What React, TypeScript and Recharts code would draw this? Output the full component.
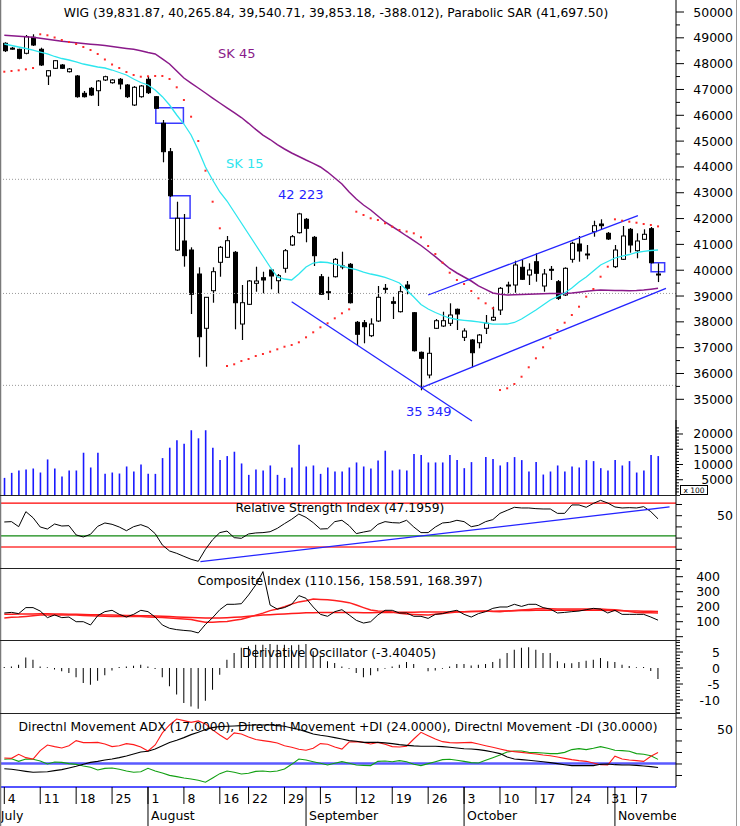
import React from 'react';
import { ComposedChart, Bar, Line, XAxis, YAxis, ReferenceLine, ReferenceArea } from 'recharts';

const FONT = '"DejaVu Sans", Verdana, sans-serif';

// ---------- price (WIG) ----------
const openP = [48788,48600,48556,48401,49020,48556,47522,47820,47948,47688,47522,46851,47045,46952,47367,47262,47394,47173,46398,46720,47394,46720,45690,44590,40782,41131,40782,39853,37750,39206,40306,40500,40693,37916,38679,39493,39710,40008,39593,40074,40976,41453,41972,41274,39748,39167,39748,40163,40229,37982,37967,37463,38033,39299,38780,38393,39427,38354,36820,35941,37750,37839,37944,38486,37401,37297,37192,37750,38071,38459,39388,39427,40113,39814,40329,39388,40035,39555,39040,40422,41015,40628,41491,41789,41429,40136,40422,41584,40755,41197,41608,39832];
const highP = [48827,48645,48579,49109,49137,48618,47754,48141,47986,47831,47560,46941,47095,47367,47533,47405,47444,47212,47134,47173,47522,46747,45817,44733,42653,42177,40887,40113,38963,40113,40937,41325,40744,39427,39621,40136,39942,40035,39853,40821,41363,42223,42022,41325,39853,39748,40473,40717,40279,38033,38072,38137,39388,39465,38973,39388,39582,38381,36851,37401,38110,38393,38718,38517,37750,37335,37529,38265,38586,39349,39555,40368,40422,40267,40655,40047,40163,39621,40113,41104,41325,40976,41917,41972,41480,40976,41712,41635,41429,41584,41673,40266];
const lowP = [48451,48540,48168,48362,48683,47909,47173,47793,47793,47657,46681,46689,46747,46360,47328,47223,47006,46669,46360,46681,46824,46243,44179,42835,40744,40136,38304,36627,36263,38741,39748,40473,37711,37297,38652,39167,39105,39260,39105,39903,40937,41421,41081,40163,39040,38846,39717,40035,38710,37103,37169,37412,37994,39105,38110,38362,39067,36851,35349,35813,37723,37800,37839,37684,37258,36240,36975,37529,38033,38265,39105,39129,39621,39427,39555,39167,39621,38846,39001,40291,40330,40422,41298,41557,41170,40085,40395,40678,40461,41170,40260,39541];
const closeP = [48501,48590,48207,49044,48722,47948,47727,48114,47820,47793,46720,46720,46786,47328,47494,47367,47212,46720,47084,47134,46875,46271,44590,42885,42010,40562,39067,37425,38951,39942,40887,41143,38741,38741,39582,39582,39621,39776,39787,40755,41298,42180,41623,40562,39067,39160,40422,40150,38741,37518,37812,37916,38951,39290,38718,39167,39299,36882,36588,36782,38044,38044,38265,38304,37645,36805,37490,37944,38176,39299,39427,40202,39648,40008,39880,39853,40020,38912,40074,41042,40744,40610,41724,41724,41209,40782,41325,40976,41131,41391,40291,39853];
const volume = [5610,7260,8030,8360,8690,7370,11660,8690,6050,8030,8030,13860,9020,13860,6930,7370,7040,9350,7700,10010,6930,6930,12100,15510,17930,16830,21230,18590,21230,15510,11440,12760,14190,10340,6600,8360,8030,9680,6600,5610,9020,16500,9350,9680,6930,9020,7700,7700,9020,10670,9350,8690,11330,14520,8030,8360,8030,13420,13090,10670,10670,10670,13090,11440,8800,10780,100,12430,11770,9680,10780,12430,11440,7700,10780,6710,7700,9680,7700,9350,9020,11440,11110,8800,8030,11440,9680,11110,7370,8030,13090,12760];
const sk15 = [48761,48703,48645,48587,48528,48451,48374,48277,48199,48141,48064,47986,47928,47870,47831,47754,47657,47560,47405,47270,47173,46979,46720,46398,46011,45662,45236,44655,43997,43494,43029,42680,42254,41828,41402,40976,40550,40124,39737,39659,39621,39853,40124,40279,40318,40298,40240,40163,40085,40027,39930,39853,39795,39725,39621,39504,39233,38962,38672,38497,38362,38246,38149,38091,38060,38033,37998,37955,37909,37909,37916,37975,38110,38284,38459,38652,38846,38982,39117,39311,39543,39737,39969,40202,40337,40473,40550,40608,40686,40732,40763,40782];
const sk45 = [49098,49078,49059,49040,49020,48986,48947,48904,48865,48838,48811,48780,48753,48730,48699,48660,48621,48587,48556,48498,48432,48374,48188,47986,47715,47444,47250,47057,46863,46669,46476,46290,46104,45914,45690,45453,45236,45062,44861,44694,44539,44404,44268,44140,43997,43803,43571,43339,43029,42758,42525,42332,42099,41867,41693,41518,41325,41150,40957,40744,40523,40291,40066,39892,39737,39582,39396,39257,39117,39067,39040,39047,39059,39071,39079,39086,39094,39098,39102,39117,39148,39183,39214,39233,39225,39218,39210,39206,39210,39233,39264,39299];
const sar = [47688,47715,47742,47781,47831,49137,49098,49013,48916,48838,48761,48645,48528,48374,48161,47967,47831,47676,47560,47494,47510,47522,47522,47405,47084,46592,45945,45004,43854,42653,41623,36290,36356,36483,36561,36677,36755,36844,36937,37037,37103,37208,37401,37595,37789,37944,38137,38331,38486,42266,42138,42010,41944,41817,41685,41557,41499,41429,41274,40937,40628,40291,39903,39621,39466,39195,38912,38718,38525,35360,35426,35593,35875,36240,36588,37014,37363,37684,37967,38265,38587,38974,39272,39748,40136,41971,41917,41879,41840,41789,41751,41697.5];

// ---------- indicators ----------
const rsi = [44.4,44.7,40.2,53.6,48.2,39.9,38.1,42.6,40.8,41.1,32.8,31.0,33.4,40.5,43.5,42.3,39.9,36.6,40.2,42.0,39.6,34.0,23.8,18.5,16.4,13.7,11.1,9.3,20.0,28.6,34.9,36.3,30.4,29.8,33.7,34.6,34.9,35.7,38.7,42.9,46.8,51.5,48.5,43.8,38.1,38.4,44.7,45.9,41.1,34.0,35.4,36.6,42.3,44.7,43.8,43.5,45.9,39.9,34.9,34.9,39.9,43.5,44.1,45.9,44.7,40.2,41.4,44.7,46.5,52.1,54.8,57.5,56.9,56.9,56.3,56.0,56.0,52.1,52.1,59.6,59.6,57.5,61.0,63.7,61.3,57.8,56.9,57.2,56.9,58.1,53.6,47.2];
const compIdx = [158,162,154,194,194,171,127,145,127,131,100,100,78,140,167,176,149,131,149,176,167,131,78,56,47,42,38,25,82,127,180,216,216,220,278,345,434,211,184,194,216,274,256,198,149,136,167,180,145,109,91,100,145,176,176,158,158,136,136,122,149,154,167,176,149,131,154,167,189,198,198,216,202,216,216,194,184,158,162,167,171,180,189,184,158,176,149,149,149,149,131,110.2];
const compFast = [125,129,131,135,139,144,145,145,145,145,144,142,140,138,136,134,134,134,134,134,131,129,128,125,121,118,115,105,96,97,99,102,109,117,129,144,157,174,185,200,217,232,240,251,248,246,241,234,227,211,194,178,171,169,165,157,151,148,146,145,149,154,159,164,167,168,170,171,168,167,171,175,178,182,186,188,186,185,185,185,185,185,185,185,182,179,174,168,162,160,159,158.6];
const compSlow = [149,150,151,152,152,153,153,152,151,150,149,148,147,146,145,144,143,142,141,140,139,138,136,134,132,130,128,126,124,124,125,127,129,132,136,140,144,147,150,152,155,157,159,160,161,162,162,162,162,161,160,160,161,162,162,163,163,163,164,164,164,165,165,166,167,168,168,169,170,171,172,173,174,175,176,176,177,177,177,177,177,177,176,176,175,174,173,172,171,170,169,168.4];
const deriv = [0.3,0.5,1.0,3.3,2.6,0.5,0.2,-0.5,-1.0,-1.6,-2.9,-4.7,-5.2,-4.0,-2.3,-0.8,0.3,0.5,0.7,1.0,0.5,-0.3,-2.9,-5.7,-8.3,-10.9,-12.0,-12.7,-10.2,-6.8,-2.1,2.6,4.7,6.3,6.8,7.3,7.3,7.5,7.3,7.3,7.1,7.3,7.5,5.2,3.6,2.1,1.6,0.5,-0.2,-1.6,-2.9,-2.3,-1.0,-0.2,0.5,1.0,1.9,1.25,0,-1.0,-0.8,-0.2,0.5,1.25,1.25,0.8,1.0,1.25,1.9,2.9,4.7,5.7,6.3,6.5,5.7,4.7,4.7,2.1,1.5,1.5,1.9,2.3,2.6,3.1,2.1,1.9,1.0,0.6,0.2,0.3,-0.9,-3.4];
const adx = [15.9,15.4,14.5,13.6,12.8,13.0,13.3,14.2,15.1,16.5,18.0,19.7,21.4,22.3,23.5,24.3,25.5,27.0,28.7,30.4,31.0,33.0,35.9,38.6,40.6,42.9,45.5,47.5,49.9,51.6,52.5,52.8,53.0,53.3,53.6,53.9,53.9,53.9,53.3,52.8,51.3,49.9,48.1,46.1,44.9,44.1,42.9,41.7,40.3,39.7,38.8,38.8,38.8,38.3,37.7,36.8,36.2,35.7,35.4,35.4,35.4,35.1,34.5,33.9,33.3,33.0,32.5,31.6,30.4,29.0,26.1,24.3,23.8,23.2,22.6,22.0,21.2,20.3,19.4,18.6,18.6,18.6,18.6,19.7,20.0,19.4,19.1,19.1,18.8,18.3,17.7,17.0];
const plusDi = [24.1,24.6,22.3,24.3,24.1,22.6,20.0,21.7,21.4,20.3,19.7,18.3,17.1,14.8,16.2,16.5,15.4,13.9,12.8,13.3,16.2,13.9,12.2,10.1,9.0,7.8,7.0,5.8,4.1,7.8,11.6,13.9,12.8,11.3,11.9,13.6,13.9,13.3,13.9,15.7,19.7,24.3,23.5,22.0,20.6,19.1,20.6,22.0,20.6,19.1,18.8,18.6,22.3,22.6,22.0,22.9,22.0,19.7,18.6,20.3,22.0,23.8,24.1,23.2,22.3,21.2,20.9,23.2,25.5,27.8,30.4,31.3,31.3,30.1,29.9,29.6,29.0,29.0,30.1,32.5,33.3,32.5,33.6,35.1,33.6,31.9,31.6,31.0,29.0,28.4,27.2,24.0];
const minusDi = [25.2,24.9,28.4,25.5,24.3,31.6,36.5,35.1,33.9,35.9,40.3,38.6,38.6,38.8,37.4,35.1,35.9,37.7,36.8,34.8,31.3,36.5,47.0,53.9,59.1,57.7,56.2,57.4,54.8,49.6,45.2,41.2,47.0,46.1,43.5,41.2,40.3,39.4,38.3,35.9,34.5,32.8,31.9,33.6,37.7,37.1,34.8,33.0,39.1,39.4,38.8,37.4,38.8,37.1,35.1,34.8,35.4,41.7,47.5,44.6,41.7,39.4,38.6,38.3,38.6,38.8,37.4,35.9,34.5,33.0,31.6,30.7,30.1,29.3,28.7,27.8,27.2,26.1,24.9,23.8,22.9,22.3,20.9,19.4,19.1,26.7,24.3,23.5,22.9,22.3,26.7,30.0];

// ---------- annotations (data units) ----------
const priceLevels = [43520, 39100, 35540];
const downTrend = [{ x: 40, y: 38780 }, { x: 65.1, y: 34160 }];
const lowerChannel = [{ x: 58.1, y: 35450 }, { x: 92.1, y: 39299 }];
const upperChannel = [{ x: 59, y: 39040 }, { x: 88.2, y: 42110 }];
const gapBoxes = [
  { x1: 21.09, x2: 24.93, y1: 45690, y2: 46294 },
  { x1: 23.08, x2: 25.86, y1: 42010, y2: 42886 },
  { x1: 90.03, x2: 91.92, y1: 39942, y2: 40291 },
];
const rsiTrend = [{ x: 27.3, y: 9.0 }, { x: 92.6, y: 57.8 }];
const rsiLevels = [
  { v: 61.3, c: '#ff0000', w: 1.2 },
  { v: 31.9, c: '#118811', w: 1.2 },
  { v: 22.0, c: '#ff6a6a', w: 2 },
];
const adxLevel = 20.5;

// ---------- tick labels ----------
const priceTicks = [35000,35500,36000,36500,37000,37500,38000,38500,39000,39500,40000,40500,41000,41500,42000,42500,43000,43500,44000,44500,45000,45500,46000,46500,47000,47500,48000,48500,49000,49500,50000];
const priceMajor = [35000,36000,37000,38000,39000,40000,41000,42000,43000,44000,45000,46000,47000,48000,49000,50000];
const volTicks = [1000,2000,3000,4000,5000,6000,7000,8000,9000,10000,11000,12000,13000,14000,15000,16000,17000,18000,19000,20000,21000,22000];
const volMajor = [5000,10000,15000,20000];
const rsiTicks = [10,20,30,40,50,60];
const compTicks = [0,50,100,150,200,250,300,350,400,450];
const compMajor = [0,100,200,300,400];
const compLabels = [100,200,300,400];
const derivTicks = [-14,-13,-12,-11,-10,-9,-8,-7,-6,-5,-4,-3,-2,-1,0,1,2,3,4,5,6,7,8];
const derivMajor = [-10,-5,0,5];
const adxTicks = [10,20,30,40,50,60];
const weekIdx = [0,5,10,15,20,25,30,34,39,44,49,54,59,64,69,74,79,84,88];
const weekLbl = ['4','11','18','25','1','8','16','22','29','5','12','19','26','3','10','17','24','31','7'];
const monthIdx = [-0.55,20,42,64,85];
const monthLbl = ['July','August','September','October','November'];
const xTicks = [-0.55,0,5,10,15,20,25,30,34,39,42,44,49,54,59,64,69,74,79,84,85,88];

const rows = openP.map((o, i) => ({
  i, o, h: highP[i], l: lowP[i], c: closeP[i], range: [lowP[i], highP[i]],
  vol: volume[i], sk15: sk15[i], sk45: sk45[i], sar: sar[i], rsi: rsi[i],
  comp: compIdx[i], cf: compFast[i], cs: compSlow[i], der: deriv[i],
  adx: adx[i], pdi: plusDi[i], mdi: minusDi[i],
}));

const XDOM: [number, number] = [-0.6, 93.5];
const AXIS_W = 64;
const PLOT_RIGHT = 676;
const M = { top: 0, right: 0, bottom: 0, left: 0 };

function makeYTick(majors: number[], labels: number[], labelRight: number, majorLen: number, minorLen: number, fmt?: (v: number) => string) {
  return (props: any) => {
    const { x, y, payload } = props;
    const v = payload.value;
    const len = majors.includes(v) ? majorLen : minorLen;
    const show = labels.includes(v);
    return (
      <g>
        <line x1={x} x2={x + len} y1={y} y2={y} stroke="#000" strokeWidth={1} />
        {show && (
          <text x={labelRight} y={y} dy="0.36em" textAnchor="end" fontFamily={FONT} fontSize={12.5} fill="#000">
            {fmt ? fmt(v) : String(v)}
          </text>
        )}
      </g>
    );
  };
}

const PriceTick = makeYTick(priceMajor, priceMajor, 733, 8, 4);
const VolTick = makeYTick(volMajor, volMajor, 733, 7, 3);
const RsiTick = makeYTick(rsiTicks, [50], 733, 6, 6);
const CompTick = makeYTick(compMajor, compLabels, 720, 7, 4);
const DerivTick = makeYTick(derivMajor, derivMajor, 720, 7, 4);
const AdxTick = makeYTick(adxTicks, [50], 733, 6, 6);

const XTick = (props: any) => {
  const { x, y, payload } = props;
  const v = payload.value;
  const w = weekIdx.indexOf(v);
  const m = monthIdx.indexOf(v);
  return (
    <g>
      {w >= 0 && <line x1={x} x2={x} y1={y} y2={y + 17} stroke="#000" />}
      {w >= 0 && (
        <text x={x + 3.5} y={y + 15.5} fontFamily={FONT} fontSize={12.5} fill="#000">{weekLbl[w]}</text>
      )}
      {m > 0 && <line x1={x} x2={x} y1={y} y2={y + 40} stroke="#000" />}
      {m >= 0 && (
        <svg x={x} y={y + 18} width={Math.max(PLOT_RIGHT - x, 1)} height={22} overflow="hidden">
          <text x={m === 0 ? 0.5 : 3} y={15} fontFamily={FONT} fontSize={12.5} fill="#000">{monthLbl[m]}</text>
        </svg>
      )}
    </g>
  );
};

const Candle = (props: any) => {
  let { x, y, width, height, payload } = props;
  if (height < 0) { y += height; height = -height; }
  const { o, h, l, c } = payload;
  const span = h - l || 1;
  const k = height / span;
  const yo = y + (h - o) * k;
  const yc = y + (h - c) * k;
  const top = Math.min(yo, yc);
  const bh = Math.max(Math.abs(yc - yo), 1);
  const cx = Math.round(x + width / 2) + 0.5;
  const up = c >= o;
  return (
    <g>
      <line x1={cx} x2={cx} y1={y} y2={y + height} stroke="#000" strokeWidth={1.2} />
      <rect x={cx - width / 2} y={top} width={width} height={bh} fill={up ? '#ffffff' : '#000000'} stroke="#000" strokeWidth={1} />
    </g>
  );
};

const SarDot = (props: any) => {
  const { cx, cy } = props;
  if (cx == null || cy == null) return null;
  return <rect x={cx - 1} y={cy - 1} width={2} height={2} fill="#ff2a2a" />;
};

const hiddenX = <XAxis dataKey="i" type="number" domain={XDOM} allowDataOverflow hide />;

const txt = { fontFamily: FONT, fill: '#000' } as const;

export default function App() {
  return (
    <div style={{ position: 'absolute', left: 0, top: 0, width: 740, height: 826, background: '#fff', overflow: 'hidden' }}>
      {/* main price panel */}
      <div style={{ position: 'absolute', left: 0, top: 0 }}>
        <ComposedChart width={740} height={495} data={rows} margin={M}>
          {hiddenX}
          <YAxis orientation="right" width={AXIS_W} domain={[31294, 50465]} allowDataOverflow ticks={priceTicks} interval={0}
            tick={PriceTick} tickLine={false} tickSize={0} tickMargin={0} axisLine={{ stroke: '#000' }} />
          {priceLevels.map((v) => (
            <ReferenceLine key={v} y={v} stroke="#9a9a9a" strokeDasharray="1 2" />
          ))}
          <Line dataKey="sk45" stroke="#8a1a8a" strokeWidth={1.5} dot={false} activeDot={false} isAnimationActive={false} />
          <Line dataKey="sk15" stroke="#2ee6ee" strokeWidth={1.3} dot={false} activeDot={false} isAnimationActive={false} />
          <Bar dataKey="range" barSize={4} shape={Candle} isAnimationActive={false} />
          <Line dataKey="sar" stroke="none" dot={SarDot} activeDot={false} isAnimationActive={false} />
          <ReferenceLine segment={downTrend} stroke="#2424ff" strokeWidth={1.3} />
          <ReferenceLine segment={lowerChannel} stroke="#2424ff" strokeWidth={1.3} />
          <ReferenceLine segment={upperChannel} stroke="#2424ff" strokeWidth={1.3} />
          {gapBoxes.map((b, k) => (
            <ReferenceArea key={k} x1={b.x1} x2={b.x2} y1={b.y1} y2={b.y2} fill="none" fillOpacity={0} stroke="#3a3aff" strokeWidth={1.5} />
          ))}
        </ComposedChart>
      </div>
      {/* volume */}
      <div style={{ position: 'absolute', left: 0, top: 420 }}>
        <ComposedChart width={740} height={75} data={rows} margin={M}>
          {hiddenX}
          <YAxis orientation="right" width={AXIS_W} domain={[0, 24590]} allowDataOverflow ticks={volTicks} interval={0}
            tick={VolTick} tickLine={false} tickSize={0} tickMargin={0} axisLine={{ stroke: '#000' }} />
          <Bar dataKey="vol" barSize={1.6} fill="#1a1aff" isAnimationActive={false} />
        </ComposedChart>
      </div>
      {/* RSI */}
      <div style={{ position: 'absolute', left: 0, top: 495 }}>
        <ComposedChart width={740} height={74} data={rows} margin={M}>
          {hiddenX}
          <YAxis orientation="right" width={AXIS_W} domain={[2.41, 68.48]} allowDataOverflow ticks={rsiTicks} interval={0}
            tick={RsiTick} tickLine={false} tickSize={0} tickMargin={0} axisLine={{ stroke: '#000' }} />
          {rsiLevels.map((r) => (
            <ReferenceLine key={r.v} y={r.v} stroke={r.c} strokeWidth={r.w} />
          ))}
          <Line dataKey="rsi" stroke="#000" strokeWidth={1} dot={false} activeDot={false} isAnimationActive={false} />
          <ReferenceLine segment={rsiTrend} stroke="#2424ff" strokeWidth={1.3} />
        </ComposedChart>
      </div>
      {/* Composite index */}
      <div style={{ position: 'absolute', left: 0, top: 569 }}>
        <ComposedChart width={740} height={71} data={rows} margin={M}>
          {hiddenX}
          <YAxis orientation="right" width={AXIS_W} domain={[-22, 451.3]} allowDataOverflow ticks={compTicks} interval={0}
            tick={CompTick} tickLine={false} tickSize={0} tickMargin={0} axisLine={{ stroke: '#000' }} />
          <Line dataKey="cs" stroke="#ff1a1a" strokeWidth={1.5} dot={false} activeDot={false} isAnimationActive={false} />
          <Line dataKey="cf" stroke="#ff2020" strokeWidth={1.5} dot={false} activeDot={false} isAnimationActive={false} />
          <Line dataKey="comp" stroke="#000" strokeWidth={1} dot={false} activeDot={false} isAnimationActive={false} />
        </ComposedChart>
      </div>
      {/* Derivative oscillator */}
      <div style={{ position: 'absolute', left: 0, top: 640 }}>
        <ComposedChart width={740} height={73} data={rows} margin={M}>
          {hiddenX}
          <YAxis orientation="right" width={AXIS_W} domain={[-14.06, 8.75]} allowDataOverflow ticks={derivTicks} interval={0}
            tick={DerivTick} tickLine={false} tickSize={0} tickMargin={0} axisLine={{ stroke: '#000' }} />
          <Bar dataKey="der" barSize={1} fill="#000" isAnimationActive={false} />
        </ComposedChart>
      </div>
      {/* ADX + x axis */}
      <div style={{ position: 'absolute', left: 0, top: 713 }}>
        <ComposedChart width={740} height={113} data={rows} margin={M}>
          <XAxis dataKey="i" type="number" domain={XDOM} allowDataOverflow ticks={xTicks} interval={0} tick={XTick}
            tickLine={false} tickSize={0} tickMargin={0} height={39} axisLine={{ stroke: '#1a1aff', strokeWidth: 1.5 }} />
          <YAxis orientation="right" width={AXIS_W} domain={[0, 64.3]} allowDataOverflow ticks={adxTicks} interval={0}
            tick={AdxTick} tickLine={false} tickSize={0} tickMargin={0} axisLine={{ stroke: '#000' }} />
          <ReferenceLine y={adxLevel} stroke="#5a5aff" strokeWidth={2.5} />
          <Line dataKey="pdi" stroke="#12a012" strokeWidth={1.1} dot={false} activeDot={false} isAnimationActive={false} />
          <Line dataKey="mdi" stroke="#ff1a1a" strokeWidth={1.1} dot={false} activeDot={false} isAnimationActive={false} />
          <Line dataKey="adx" stroke="#000" strokeWidth={1.1} dot={false} activeDot={false} isAnimationActive={false} />
        </ComposedChart>
      </div>
      {/* frames, titles and notes */}
      <svg width={740} height={826} style={{ position: 'absolute', left: 0, top: 0, pointerEvents: 'none' }}>
        <line x1={0.5} x2={0.5} y1={0} y2={826} stroke="#7a7a7a" strokeWidth={1.5} />
        <line x1={736.5} x2={736.5} y1={0} y2={826} stroke="#9a9a9a" />
        {[495.5, 568.5, 640.5, 713.5].map((y) => (
          <line key={y} x1={0} x2={680} y1={y} y2={y} stroke="#222" strokeWidth={1.2} />
        ))}
        <text x={336} y={17} textAnchor="middle" fontSize={12.3} {...txt}>WIG (39,831.87, 40,265.84, 39,540.71, 39,853.18, -388.012), Parabolic SAR (41,697.50)</text>
        <text x={340} y={512} textAnchor="middle" fontSize={12.3} {...txt}>Relative Strength Index (47.1959)</text>
        <text x={340} y={585} textAnchor="middle" fontSize={12.3} {...txt}>Composite Index (110.156, 158.591, 168.397)</text>
        <text x={339} y={657} textAnchor="middle" fontSize={12.3} {...txt}>Derivative Oscillator (-3.40405)</text>
        <text x={338} y={730.5} textAnchor="middle" fontSize={12.3} {...txt}>Directnl Movement ADX (17.0000), Directnl Movement +DI (24.0000), Directnl Movement -DI (30.0000)</text>
        <text x={218} y={58} fontSize={13} fontFamily={FONT} fill="#8a1a8a">SK 45</text>
        <text x={226} y={168} fontSize={13} fontFamily={FONT} fill="#2ee6ee">SK 15</text>
        <text x={278} y={199} fontSize={13} fontFamily={FONT} fill="#2424ff">42 223</text>
        <text x={406} y={416} fontSize={13} fontFamily={FONT} fill="#2424ff">35 349</text>
        <rect x={680.5} y={485.5} width={27} height={9} fill="#fff" stroke="#000" />
        <text x={694} y={493} textAnchor="middle" fontSize={7.5} {...txt}>x 100</text>
      </svg>
    </div>
  );
}
